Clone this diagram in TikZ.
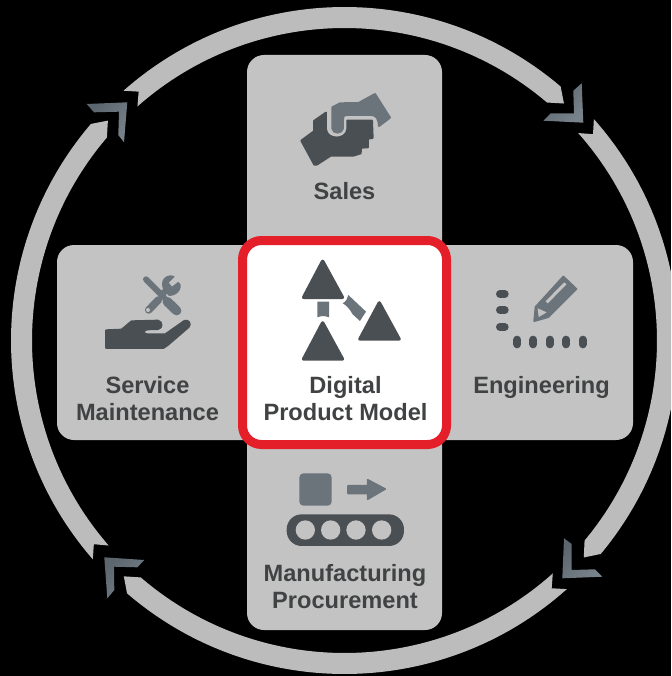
\documentclass[tikz,border=0pt]{standalone}
\usepackage{fontspec}
\setmainfont{Liberation Sans}
\definecolor{panel}{HTML}{C3C3C3}
\definecolor{ringc}{HTML}{BCBCBC}
\definecolor{darkicon}{HTML}{4A4F53}
\definecolor{lighticon}{HTML}{6B747B}
\definecolor{chevdark}{HTML}{5C666E}
\definecolor{chevlight}{HTML}{78828A}
\definecolor{redc}{HTML}{E51F2A}
\definecolor{labelc}{HTML}{404243}
\tikzset{
  panelbox/.style={fill=panel,rounded corners=17pt},
  ringseg/.style={fill=ringc},
  chevron/.style={left color=chevdark,right color=chevlight,shading angle=45},
  lbl/.style={font=\fontsize{23.6}{27.5}\selectfont\bfseries,text=labelc,align=center,inner sep=0pt},
  darkfill/.style={fill=darkicon,draw=darkicon,line join=round},
  lightfill/.style={fill=lighticon,draw=lighticon,line join=round},
}
\newcommand{\ringarc}[2]{% start angle, end angle
  \fill[ringseg] (#1+1.9:323) -- (#1:333.5) arc[start angle=#1,end angle=#2,radius=333.5]
    -- (#2+2.4:323) -- (#2:312.5) arc[start angle=#2,end angle=#1,radius=312.5] -- cycle;}
\begin{document}
\begin{tikzpicture}[x=1pt,y=-1pt]
\useasboundingbox (0,0) rectangle (671,676);
\clip (0,0) rectangle (671,676);
\fill[black] (0,0) rectangle (671,676);
% ring
\begin{scope}[shift={(344.5,340.5)}]
  \ringarc{-131.5}{-49.6}
  \ringarc{-41.6}{39.8}
  \ringarc{48.2}{130.7}
  \ringarc{139}{220.5}
\end{scope}
% chevrons
\fill[chevron] (581.7,83.3)--(583.3,122.7)--(543.3,120.7)--(550.7,113.3)--(574,113.3)--(573.3,90.7)--cycle;
\fill[chevron] (86.7,104)--(127.3,102.3)--(124,142.3)--(118.3,135)--(119,111.7)--(94,112.3)--cycle;
\fill[chevron] (564,538.3)--(562.3,578.3)--(602.3,576.7)--(595,569.3)--(571.7,570)--(571.7,544)--cycle;
\fill[chevron] (104.3,557.3)--(144.3,560)--(137.3,567.3)--(114,566.7)--(114.3,590)--(107.3,598.3)--cycle;
% cross
\fill[panelbox] (247,55) rectangle (442,630);
\fill[panelbox] (57,245) rectangle (633,440);
\draw[redc,line width=9pt,fill=white,rounded corners=19pt] (242.5,240.5) rectangle (446.5,444.5);
% Sales icon
\begin{scope}[shift={(260,70)},x=.3333pt,y=-.3333pt]
  \draw[darkfill,line width=2pt] (124,212)--(162,184)--(162,153)--(198,128)--(198,178)
    .. controls (200,210) and (258,212) .. (262,178)--(262,152)--(336,152)--(338,204)--(324,206)--(324,232)--(303,233)--(302,250)
    --(280,257)--(212,257)--(170,284)--(163,284)--cycle;
  \draw[lightfill,line width=2pt] (217,112)--(240,100)--(296,99)--(345,72)--(390,143)--(357,168)
    .. controls (356,148) and (350,136) .. (335,135)--(262,135)
    .. controls (250,135) and (249,140) .. (249,150)--(249,175)
    .. controls (247,192) and (218,192) .. (217,175)--cycle;
\end{scope}
% Service icon
\begin{scope}[shift={(90,260)},x=.3333pt,y=-.3333pt]
  \draw[darkfill,line width=2pt] (48,211)--(95,209)--(125,184)--(204,182)
    .. controls (218,186) and (218,204) .. (204,207)--(172,208)
    .. controls (158,210) and (158,223) .. (172,223)--(226,223)--(283,183)
    .. controls (296,178) and (304,192) .. (296,201)--(232,256)--(220,264)--(48,264)--cycle;
  % screwdriver
  \draw[lighticon,line width=6pt,line cap=round] (168,58)--(222,112);
  \draw[lighticon,line width=9.5pt,line cap=round] (232,125)--(260,152);
  % wrench
  \draw[lighticon,line width=7.5pt,line cap=round] (176,150)--(205,120);
  \draw[lighticon,line width=6pt] (215,103)--(237,84);
  \fill[lighticon] (222,55) .. controls (232,44) and (248,44) .. (254,50)--(236,68)--(246,80)--(264,66)
     .. controls (282,72) and (270,108) .. (237,108)--(222,92) .. controls (214,80) and (214,64) .. (222,55)--cycle;
  \fill[panel] (174,150) circle[radius=6];
\end{scope}
% Model icon
\begin{scope}[shift={(280,245)},x=.3333pt,y=-.3333pt]
  \draw[darkfill,line width=3.5pt] (128,49)--(71,157)--(187,157)--cycle;
  \draw[darkfill,line width=3.5pt] (298,174)--(240,282)--(357,282)--cycle;
  \draw[darkfill,line width=3.5pt] (128,234)--(71,342)--(187,342)--cycle;
  \fill[lighticon] (112,170)--(147,170)--(147,217) .. controls (135,212) and (124,212) .. (112,217)--cycle;
  \fill[lighticon] (205,150)--(258,200)--(240,228)--(218,208) .. controls (208,190) and (200,182) .. (188,175)
     .. controls (198,170) and (203,160) .. (205,150)--cycle;
\end{scope}
% Engineering icon
\begin{scope}[shift={(480,265)},x=.3333pt,y=-.3333pt]
  \foreach \yy in {87,135,186} \draw[darkicon,line width=8pt,line cap=round] (60,\yy)--(74,\yy);
  \foreach \xx in {112,160,209,259,308} \draw[darkicon,line width=8pt,line cap=round] (\xx,224)--(\xx,238);
  \draw[lightfill,line width=2pt] (250,35)--(289,72)--(205,156)--(163,168)--(167,126)--cycle;
  \draw[panel,line width=3pt] (200,112)--(256,55);
  \fill[panel] (173,130)--(200,142)--(190,148)--(176,156)--cycle;
\end{scope}
% Manufacturing icon
\begin{scope}[shift={(280,465)},x=.3333pt,y=-.3333pt]
  \fill[lighticon,rounded corners=4pt] (58,25) rectangle (155,122);
  \draw[lightfill,line width=1.5pt] (204,62)--(263,62)--(263,44)--(316,72)--(263,103)--(263,86)--(204,86)--cycle;
  \fill[darkicon,rounded corners=15pt] (20,148) rectangle (372,243);
  \foreach \xx in {76,152,228,305} \fill[panel] (\xx,195) circle[radius=29];
\end{scope}
% labels
\node[lbl] (sales) at (344.5,191) {Sales};
\node[lbl] (service) at (147.5,398.5) {Service\\Maintenance};
\node[lbl] (model) at (345.5,398.5) {Digital\\Product Model};
\node[lbl] (eng) at (541.5,387) {Engineering};
\node[lbl] (manu) at (345,586.5) {Manufacturing\\Procurement};
\end{tikzpicture}
\end{document}
